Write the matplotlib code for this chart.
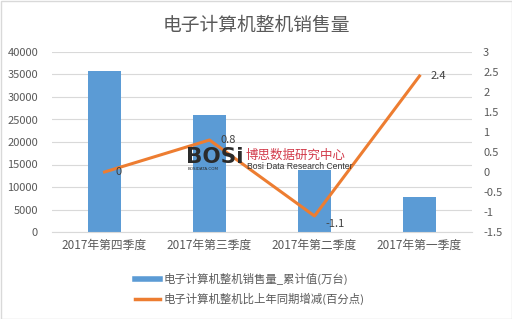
import matplotlib
matplotlib.use("Agg")
import matplotlib.pyplot as plt
from matplotlib.lines import Line2D

plt.rcParams['font.family'] = ['Noto Sans CJK SC', 'DejaVu Sans']

categories = ["2017年第四季度", "2017年第三季度", "2017年第二季度", "2017年第一季度"]
sales = [35800, 25900, 13800, 7700]
growth = [0, 0.8, -1.1, 2.4]
growth_labels = ["0", "0.8", "-1.1", "2.4"]
left_ticks = [0, 5000, 10000, 15000, 20000, 25000, 30000, 35000, 40000]
right_ticks = [-1.5, -1, -0.5, 0, 0.5, 1, 1.5, 2, 2.5, 3]
title = "电子计算机整机销售量"
bar_name = "电子计算机整机销售量_累计值(万台)"
line_name = "电子计算机整机比上年同期增减(百分点)"

W, H = 512, 319
fig = plt.figure(figsize=(W / 100, H / 100), dpi=100)
ax = fig.add_axes([52 / W, 1 - 232 / H, 420 / W, 180 / H])
ax2 = ax.twinx()

bar_c = "#5B9BD5"
line_c = "#ED7D31"
txt_c = "#595959"

x = list(range(len(categories)))
ax.bar(x, sales, width=0.305, color=bar_c, zorder=2)
ax.set_ylim(0, 40000)
ax.set_xlim(-0.5, 3.5)
ax.set_yticks(left_ticks)
ax.set_yticklabels([str(t) for t in left_ticks])
ax.grid(axis='y', color="#D9D9D9", linewidth=0.8, zorder=0)
ax.set_axisbelow(True)
ax.set_xticks(x)
ax.set_xticklabels(categories, fontsize=8.5)

ax2.plot(x, growth, color=line_c, linewidth=2.2, zorder=3)
ax2.set_ylim(-1.5, 3)
ax2.set_yticks(right_ticks)
ax2.set_yticklabels([f"{t:g}" for t in right_ticks])
for xi, g, lab in zip(x, growth, growth_labels):
    dy = -6 if g < 0 else 0
    ax2.annotate(lab, (xi, g), xytext=(8, dy), textcoords="offset points",
                 fontsize=8, color="#404040", va="center", ha="left", zorder=4)

for a in (ax, ax2):
    for s in a.spines.values():
        s.set_visible(False)
    a.tick_params(length=0, labelsize=8, colors=txt_c)
ax.tick_params(axis='x', labelsize=8.5)
ax.spines['bottom'].set_visible(True)
ax.spines['bottom'].set_color("#D9D9D9")
ax.tick_params(axis='y', pad=10)
ax2.tick_params(axis='y', pad=8)
ax.tick_params(axis='x', pad=5)

fig.text(0.5, 1 - 25 / H, title, ha='center', va='center', fontsize=13.5, color=txt_c)

# watermark
fig.text(186 / W, 1 - 157 / H, "BOSi", fontsize=15.5, fontweight='bold', color="#2b2b2b",
         va='center', ha='left', family=['DejaVu Sans'])
fig.text(188 / W, 1 - 169 / H, "BOSIDATA.COM", fontsize=3, color="#2b2b2b",
         va='center', ha='left', family=['DejaVu Sans'])
fig.text(246 / W, 1 - 155 / H, "博思数据研究中心", fontsize=9, color="#d23a4a", va='center', ha='left')
fig.text(247 / W, 1 - 166 / H, "Bosi Data Research Center", fontsize=6.2, color="#333333",
         va='center', ha='left', family=['Liberation Sans', 'DejaVu Sans'])

handles = [Line2D([0], [0], color=bar_c, linewidth=4),
           Line2D([0], [0], color=line_c, linewidth=2.5)]
fig.legend(handles, [bar_name, line_name], loc='center', bbox_to_anchor=(250 / W, 1 - 289 / H),
           frameon=False, fontsize=8.2, labelcolor=txt_c, handlelength=2.2, handletextpad=0.3,
           labelspacing=0.65)

border = plt.Rectangle((0.5 / W, 0.5 / H), 1 - 1 / W, 1 - 1 / H, transform=fig.transFigure,
                       fill=False, edgecolor="#D9D9D9", linewidth=1)
fig.patches.append(border)

fig.savefig("out.png", dpi=100, facecolor="white")
